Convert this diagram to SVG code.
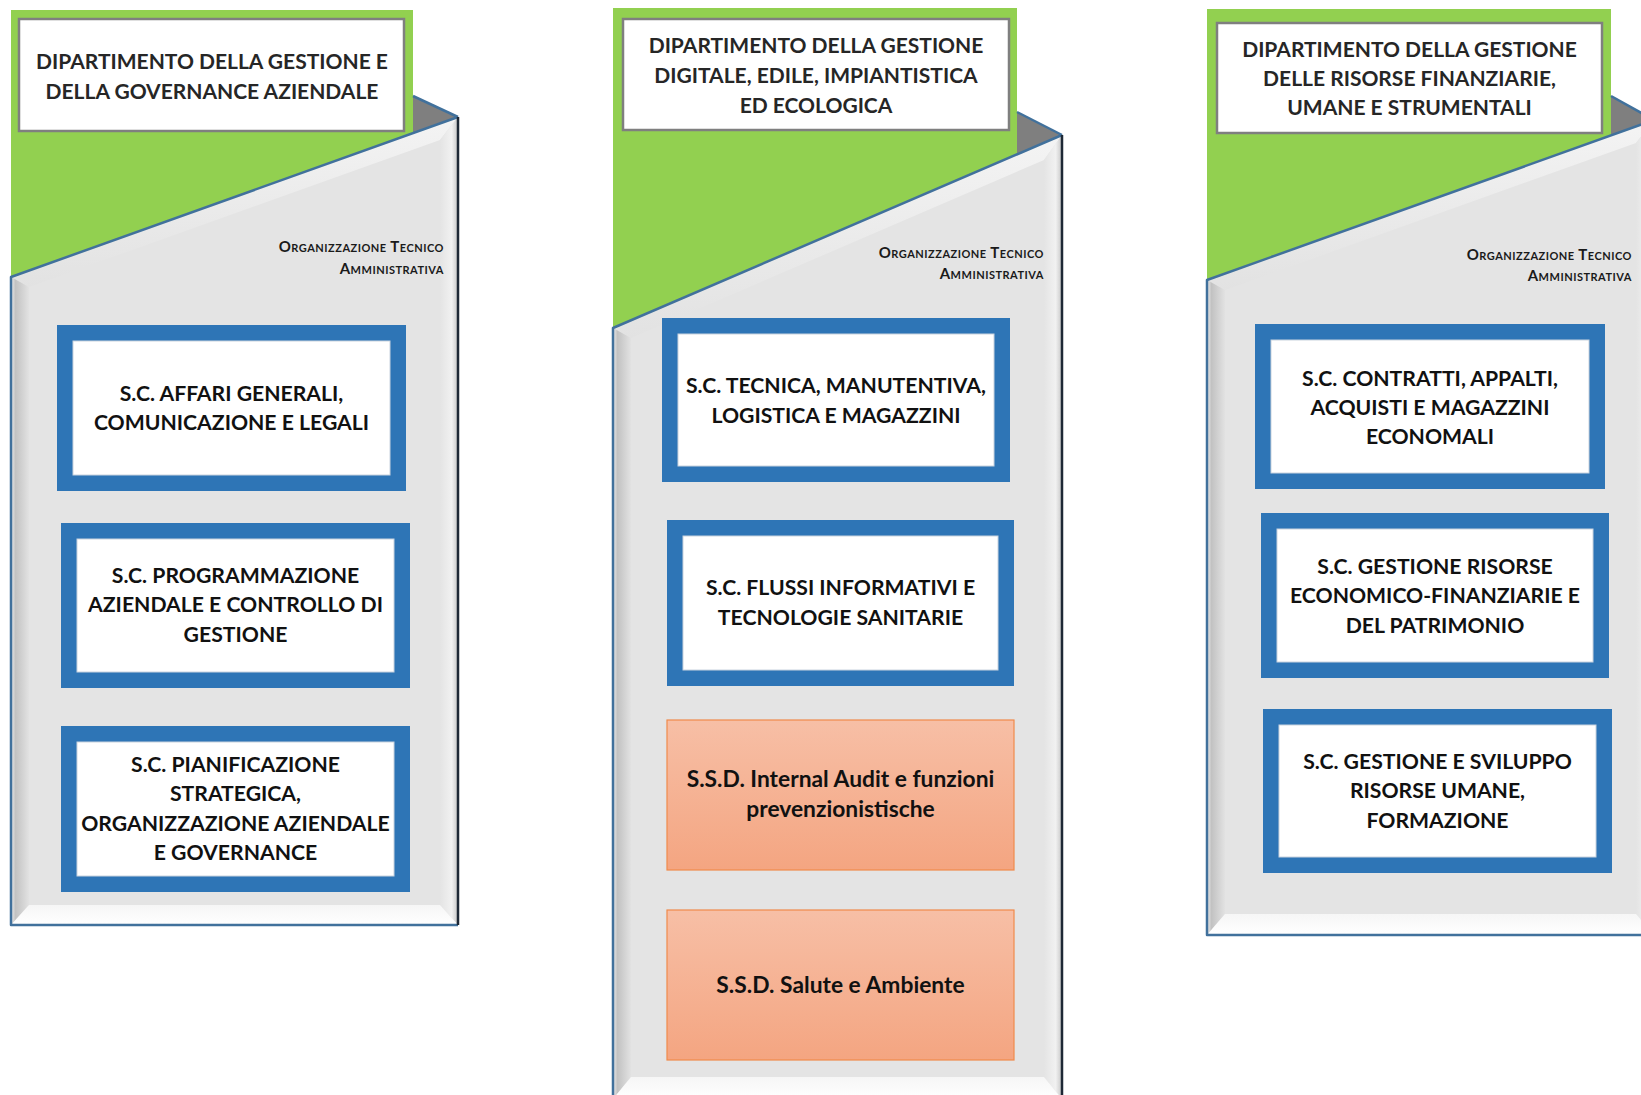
<svg xmlns="http://www.w3.org/2000/svg" width="1641" height="1095" viewBox="0 0 1641 1095">
  <defs>
    <style>
      .green { fill: #92d050; }
      .fold { fill: #7f7f7f; }
      .face { fill: #e4e4e4; }
      .edge-blue { fill: none; stroke: #41719c; stroke-width: 2.5; stroke-linejoin: round; }
      .edge-dark { fill: none; stroke: #1e2835; stroke-width: 2.5; }
      .bevel-left { fill: url(#gLeft); }
      .bevel-right { fill: url(#gRight); }
      .bevel-bottom { fill: url(#gBottom); }
      .bevel-top { fill: url(#gTop); }
      .title-box { fill: #ffffff; stroke: #7f7f7f; stroke-width: 2.5; }
      .title { font-family: Lato, "Liberation Sans", sans-serif; font-weight: 700; font-size: 21px; fill: #262626; text-anchor: middle; }
      .org { font-family: Lato, "Liberation Sans", sans-serif; font-weight: 700; font-size: 15px; letter-spacing: 0.5px; fill: #1a1a1a; text-anchor: end; font-variant: small-caps; }
      .sc-outer { fill: #2e75b6; }
      .sc-inner { fill: #ffffff; stroke: #c9d3de; stroke-width: 1; }
      .label { font-family: Lato, "Liberation Sans", sans-serif; font-weight: 700; font-size: 21.2px; fill: #111111; text-anchor: middle; }
      .label-ssd { font-family: Lato, "Liberation Sans", sans-serif; font-weight: 700; font-size: 22.8px; fill: #111111; text-anchor: middle; }
      .ssd { fill: url(#gOrange); stroke: #f08a4b; stroke-width: 1.2; }
    </style>
    <linearGradient id="gLeft" x1="0" y1="0" x2="1" y2="0">
      <stop offset="0" stop-color="#ececec"/>
      <stop offset="0.25" stop-color="#c2c2c2"/>
      <stop offset="1" stop-color="#e2e2e2"/>
    </linearGradient>
    <linearGradient id="gRight" x1="0" y1="0" x2="1" y2="0">
      <stop offset="0" stop-color="#e4e4e4"/>
      <stop offset="0.65" stop-color="#f1f1f1"/>
      <stop offset="1" stop-color="#c6c6c6"/>
    </linearGradient>
    <linearGradient id="gBottom" x1="0" y1="0" x2="0" y2="1">
      <stop offset="0" stop-color="#f6f6f6"/>
      <stop offset="1" stop-color="#ffffff"/>
    </linearGradient>
    <linearGradient id="gTop" x1="0" y1="0" x2="0" y2="1">
      <stop offset="0" stop-color="#f4f4f4"/>
      <stop offset="1" stop-color="#e2e2e2"/>
    </linearGradient>
    <linearGradient id="gOrange" x1="0" y1="0" x2="0" y2="1">
      <stop offset="0" stop-color="#f7bfa6"/>
      <stop offset="1" stop-color="#f4a581"/>
    </linearGradient>
  </defs>

  <rect width="1641" height="1095" fill="#ffffff"/>

  <!-- Department 1: gestione e governance aziendale -->
  <g id="dept-governance">
    <rect class="green" x="11" y="10" width="402" height="267"/>
    <polygon class="fold" points="413,96 458,117 413,133"/>
    <polygon class="face" points="11,277 458,117 458,925 11,925"/>
    <polygon class="bevel-top" points="11,277 458,117 440,140 29,287"/>
    <polygon class="bevel-left" points="11,277 29,287 29,905 11,925"/>
    <polygon class="bevel-right" points="458,117 440,140 440,905 458,925"/>
    <polygon class="bevel-bottom" points="11,925 29,905 440,905 458,925"/>
    <polyline class="edge-blue" points="413,96 458,117"/>
    <polyline class="edge-blue" points="458,117 11,277 11,925 458,925"/>
    <line class="edge-dark" x1="458" y1="117" x2="458" y2="925"/>
    <rect class="title-box" x="19" y="19" width="385" height="112"/>
    <text class="title" x="212" y="69">DIPARTIMENTO DELLA GESTIONE E</text>
    <text class="title" x="212" y="99">DELLA GOVERNANCE AZIENDALE</text>
    <text class="org" x="444" y="252">Organizzazione  Tecnico</text>
    <text class="org" x="444" y="274">Amministrativa</text>
  </g>

  <g id="sc-affari-generali">
    <rect class="sc-outer" x="57" y="325" width="349" height="166"/>
    <rect class="sc-inner" x="73" y="341" width="317" height="134"/>
    <text class="label" x="231.5" y="401">S.C. AFFARI GENERALI,</text>
    <text class="label" x="231.5" y="430">COMUNICAZIONE E LEGALI</text>
  </g>

  <g id="sc-programmazione">
    <rect class="sc-outer" x="61" y="523" width="349" height="165"/>
    <rect class="sc-inner" x="77" y="539" width="317" height="133"/>
    <text class="label" x="235.5" y="583">S.C. PROGRAMMAZIONE</text>
    <text class="label" x="235.5" y="612">AZIENDALE E CONTROLLO DI</text>
    <text class="label" x="235.5" y="642">GESTIONE</text>
  </g>

  <g id="sc-pianificazione">
    <rect class="sc-outer" x="61" y="726" width="349" height="166"/>
    <rect class="sc-inner" x="77" y="742" width="317" height="134"/>
    <text class="label" x="235.5" y="772">S.C. PIANIFICAZIONE</text>
    <text class="label" x="235.5" y="801">STRATEGICA,</text>
    <text class="label" x="235.5" y="831">ORGANIZZAZIONE AZIENDALE</text>
    <text class="label" x="235.5" y="860">E GOVERNANCE</text>
  </g>

  <!-- Department 2: gestione digitale, edile, impiantistica ed ecologica -->
  <g id="dept-digitale">
    <rect class="green" x="613" y="8" width="404" height="320"/>
    <polygon class="fold" points="1017,112 1062,135 1017,154"/>
    <polygon class="face" points="613,328 1062,135 1062,1099 613,1099"/>
    <polygon class="bevel-top" points="613,328 1062,135 1044,160 631,338"/>
    <polygon class="bevel-left" points="613,328 631,338 631,1077 613,1099"/>
    <polygon class="bevel-right" points="1062,135 1044,160 1044,1077 1062,1099"/>
    <polygon class="bevel-bottom" points="613,1099 631,1077 1044,1077 1062,1099"/>
    <polyline class="edge-blue" points="1017,112 1062,135"/>
    <polyline class="edge-blue" points="1062,135 613,328 613,1099"/>
    <line class="edge-dark" x1="1062" y1="135" x2="1062" y2="1099"/>
    <rect class="title-box" x="623" y="19" width="386" height="111"/>
    <text class="title" x="816" y="53">DIPARTIMENTO DELLA GESTIONE</text>
    <text class="title" x="816" y="83">DIGITALE, EDILE, IMPIANTISTICA</text>
    <text class="title" x="816" y="113">ED ECOLOGICA</text>
    <text class="org" x="1044" y="258">Organizzazione  Tecnico</text>
    <text class="org" x="1044" y="279">Amministrativa</text>
  </g>

  <g id="sc-tecnica">
    <rect class="sc-outer" x="662" y="318" width="348" height="164"/>
    <rect class="sc-inner" x="678" y="334" width="316" height="132"/>
    <text class="label" x="836" y="393">S.C. TECNICA, MANUTENTIVA,</text>
    <text class="label" x="836" y="423">LOGISTICA E MAGAZZINI</text>
  </g>

  <g id="sc-flussi-informativi">
    <rect class="sc-outer" x="667" y="520" width="347" height="166"/>
    <rect class="sc-inner" x="683" y="536" width="315" height="134"/>
    <text class="label" x="840.5" y="595">S.C. FLUSSI INFORMATIVI E</text>
    <text class="label" x="840.5" y="625">TECNOLOGIE SANITARIE</text>
  </g>

  <g id="ssd-internal-audit">
    <rect class="ssd" x="667" y="720" width="347" height="150"/>
    <text class="label-ssd" x="840.5" y="787">S.S.D. Internal Audit e funzioni</text>
    <text class="label-ssd" x="840.5" y="817">prevenzionistische</text>
  </g>

  <g id="ssd-salute-ambiente">
    <rect class="ssd" x="667" y="910" width="347" height="150"/>
    <text class="label-ssd" x="840.5" y="993">S.S.D. Salute e Ambiente</text>
  </g>

  <!-- Department 3: risorse finanziarie, umane e strumentali -->
  <g id="dept-risorse">
    <rect class="green" x="1207" y="9" width="404" height="271"/>
    <polygon class="fold" points="1611,96 1654,120 1611,136"/>
    <polygon class="face" points="1207,280 1654,120 1654,935 1207,935"/>
    <polygon class="bevel-top" points="1207,280 1654,120 1636,143 1225,290"/>
    <polygon class="bevel-left" points="1207,280 1225,290 1225,914 1207,935"/>
    <polygon class="bevel-right" points="1654,120 1636,143 1636,914 1654,935"/>
    <polygon class="bevel-bottom" points="1207,935 1225,914 1636,914 1654,935"/>
    <polyline class="edge-blue" points="1611,96 1654,120"/>
    <polyline class="edge-blue" points="1654,120 1207,280 1207,935 1654,935"/>
    <rect class="title-box" x="1217" y="23" width="385" height="110"/>
    <text class="title" x="1409.5" y="57">DIPARTIMENTO DELLA GESTIONE</text>
    <text class="title" x="1409.5" y="86">DELLE RISORSE FINANZIARIE,</text>
    <text class="title" x="1409.5" y="115">UMANE E STRUMENTALI</text>
    <text class="org" x="1632" y="260">Organizzazione  Tecnico</text>
    <text class="org" x="1632" y="281">Amministrativa</text>
  </g>

  <g id="sc-contratti-appalti">
    <rect class="sc-outer" x="1255" y="324" width="350" height="165"/>
    <rect class="sc-inner" x="1271" y="340" width="318" height="133"/>
    <text class="label" x="1430" y="386">S.C. CONTRATTI, APPALTI,</text>
    <text class="label" x="1430" y="415">ACQUISTI E MAGAZZINI</text>
    <text class="label" x="1430" y="444">ECONOMALI</text>
  </g>

  <g id="sc-risorse-economiche">
    <rect class="sc-outer" x="1261" y="513" width="348" height="165"/>
    <rect class="sc-inner" x="1277" y="529" width="316" height="133"/>
    <text class="label" x="1435" y="574">S.C. GESTIONE RISORSE</text>
    <text class="label" x="1435" y="603">ECONOMICO-FINANZIARIE E</text>
    <text class="label" x="1435" y="633">DEL PATRIMONIO</text>
  </g>

  <g id="sc-risorse-umane">
    <rect class="sc-outer" x="1263" y="709" width="349" height="164"/>
    <rect class="sc-inner" x="1279" y="725" width="317" height="132"/>
    <text class="label" x="1437.5" y="769">S.C. GESTIONE E SVILUPPO</text>
    <text class="label" x="1437.5" y="798">RISORSE UMANE,</text>
    <text class="label" x="1437.5" y="828">FORMAZIONE</text>
  </g>
</svg>
